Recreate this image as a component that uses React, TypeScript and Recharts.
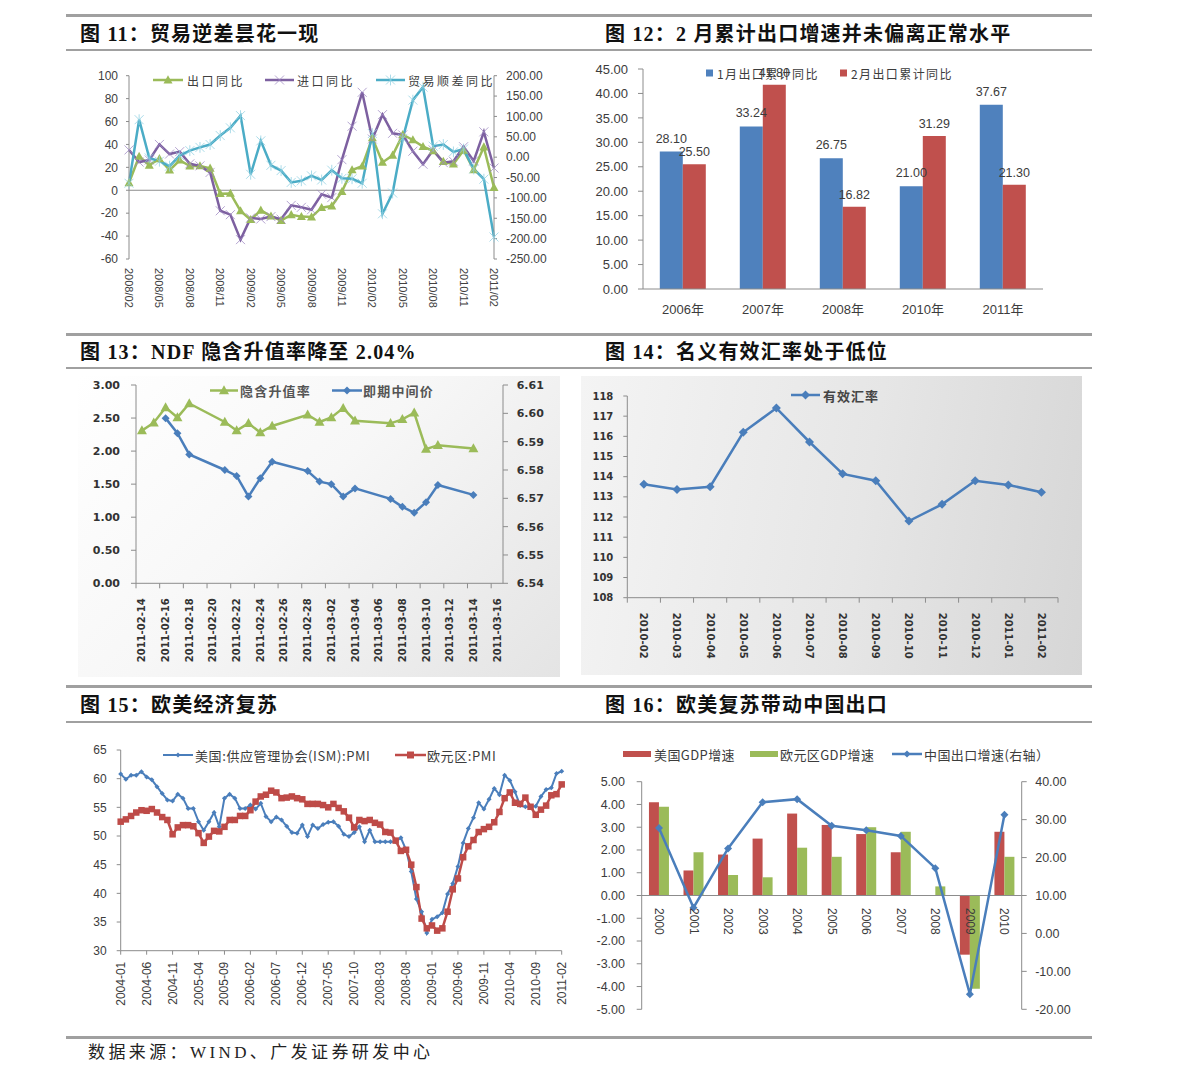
import React from "react";
import {
  ComposedChart,
  LineChart,
  BarChart,
  Line,
  Bar,
  XAxis,
  YAxis,
  ReferenceLine,
  ReferenceDot,
  LabelList,
} from "recharts";

const SANS = '"Liberation Sans", Arial, "Noto Sans CJK SC", sans-serif';
const CJK = '"Noto Sans CJK SC", "Liberation Sans", sans-serif';
const HEAVY = '"DejaVu Sans", "Noto Sans CJK SC", sans-serif';
const TITLE = '"Liberation Serif", "Noto Sans CJK SC", serif';
const AXIS = "#8c8c8c";
const INK = "#3c3c3c";

const BLUE = "#4a7ebb";
const BLUE_BAR = "#4f81bd";
const RED = "#c0504d";
const GREEN = "#9bbb59";
const PURPLE = "#7d60a0";
const CYAN = "#4bacc6";

// ================= Fig 11 =================
const f11Months = [
  "2008/02", "2008/03", "2008/04", "2008/05", "2008/06", "2008/07", "2008/08", "2008/09", "2008/10", "2008/11", "2008/12",
  "2009/01", "2009/02", "2009/03", "2009/04", "2009/05", "2009/06", "2009/07", "2009/08", "2009/09", "2009/10", "2009/11", "2009/12",
  "2010/01", "2010/02", "2010/03", "2010/04", "2010/05", "2010/06", "2010/07", "2010/08", "2010/09", "2010/10", "2010/11", "2010/12",
  "2011/01", "2011/02",
];
const f11Export = [
  6.5, 29.5, 21.8, 27.5, 17.6, 26.2, 21.1, 21.2, 19.2, -3.0, -2.8,
  -18.0, -25.7, -17.5, -22.6, -26.4, -21.4, -23.0, -23.4, -15.2, -13.8, -1.2, 17.7,
  21.0, 45.7, 24.3, 30.5, 48.5, 43.9, 38.1, 34.4, 25.1, 22.9, 34.9, 17.9,
  37.7, 2.4,
];
const f11Import = [
  35.2, 24.6, 26.4, 40.0, 31.6, 33.7, 23.1, 21.3, 15.6, -17.9, -21.3,
  -43.1, -24.1, -25.1, -23.0, -25.2, -13.2, -14.9, -17.0, -3.5, -6.4, 26.7, 55.9,
  85.5, 44.7, 66.0, 49.7, 48.3, 34.1, 22.7, 35.2, 24.1, 25.3, 38.0, 25.6,
  51.0, 19.4,
];
const f11Balance = [
  -64, 92, -2, -10, -22, 4, 16, 24, 31, 53, 72,
  102, -42, 40, -20, -33, -62, -58, -46, -56, -32, -52, -53,
  -64, 58, -139, -88, 46, 140, 172, 27, 31, 13, 20, -29,
  -54, -196,
];
const f11LeftTicks = [-60, -40, -20, 0, 20, 40, 60, 80, 100];
const f11RightTicks = [-250, -200, -150, -100, -50, 0, 50, 100, 150, 200];

// ================= Fig 12 =================
const f12Years = ["2006年", "2007年", "2008年", "2010年", "2011年"];
const f12Jan = [28.1, 33.24, 26.75, 21.0, 37.67];
const f12Feb = [25.5, 41.8, 16.82, 31.29, 21.3];
const f12Ticks = [0, 5, 10, 15, 20, 25, 30, 35, 40, 45];

// ================= Fig 13 =================
const f13Start = "2011-02-14";
const f13Dates = [
  "2011-02-14", "2011-02-15", "2011-02-16", "2011-02-17", "2011-02-18",
  "2011-02-21", "2011-02-22", "2011-02-23", "2011-02-24", "2011-02-25",
  "2011-02-28", "2011-03-01", "2011-03-02", "2011-03-03", "2011-03-04",
  "2011-03-07", "2011-03-08", "2011-03-09", "2011-03-10", "2011-03-11",
  "2011-03-14",
];
const f13Implied = [
  2.31, 2.43, 2.66, 2.51, 2.72,
  2.44, 2.31, 2.42, 2.28, 2.38,
  2.55, 2.44, 2.51, 2.65, 2.46,
  2.42, 2.48, 2.58, 2.03, 2.09,
  2.04,
];
const f13Spot = [
  null, null, 6.5983, 6.593, 6.5855,
  6.58, 6.5779, 6.5706, 6.5771, 6.5829,
  6.5796, 6.5759, 6.575, 6.5706, 6.5735,
  6.5698, 6.567, 6.5649, 6.5686, 6.5747,
  6.5712,
];
const f13TickLabels = [
  "2011-02-14", "2011-02-16", "2011-02-18", "2011-02-20", "2011-02-22", "2011-02-24",
  "2011-02-26", "2011-02-28", "2011-03-02", "2011-03-04", "2011-03-06", "2011-03-08",
  "2011-03-10", "2011-03-12", "2011-03-14", "2011-03-16",
];
const f13LeftTicks = [0, 0.5, 1, 1.5, 2, 2.5, 3];
const f13RightTicks = [6.54, 6.55, 6.56, 6.57, 6.58, 6.59, 6.6, 6.61];

// ================= Fig 14 =================
const f14Months = [
  "2010-02", "2010-03", "2010-04", "2010-05", "2010-06", "2010-07", "2010-08",
  "2010-09", "2010-10", "2010-11", "2010-12", "2011-01", "2011-02",
];
const f14Neer = [113.62, 113.37, 113.5, 116.2, 117.4, 115.72, 114.14, 113.8, 111.8, 112.63, 113.8, 113.59, 113.23];
const f14Ticks = [108, 109, 110, 111, 112, 113, 114, 115, 116, 117, 118];

// ================= Fig 15 =================
function monthSeq(y0: number, m0: number, n: number, sep: string) {
  const out: string[] = [];
  for (let k = 0; k < n; k++) {
    const t = y0 * 12 + (m0 - 1) + k;
    out.push(`${Math.floor(t / 12)}${sep}${String((t % 12) + 1).padStart(2, "0")}`);
  }
  return out;
}
const f15Months = monthSeq(2004, 1, 86, "-");
const f15US = [
  60.8, 59.9, 60.6, 60.6, 61.2, 60.3, 59.8, 58.6, 57.4, 56.3, 56.1, 57.3,
  56.6, 54.8, 54.8, 52.5, 51.0, 52.5, 54.1, 51.6, 56.6, 57.3, 56.6, 54.8,
  54.8, 55.4, 54.7, 55.7, 53.4, 52.5, 53.3, 52.8, 51.7, 50.6, 50.5, 51.9,
  49.9, 51.9, 51.3, 52.0, 52.4, 52.5, 51.7, 50.3, 49.9, 50.6, 51.6, 49.0,
  51.0, 49.0, 49.0, 49.0, 49.0, 49.0, 49.7, 47.6, 43.8, 39.0, 36.8, 33.1,
  35.5, 35.9, 36.6, 39.9, 41.7, 44.7, 48.8, 51.3, 53.2, 55.8, 54.7, 56.4,
  58.3, 57.2, 60.6, 59.7, 57.7, 55.3, 55.1, 55.1, 55.2, 56.9, 58.1, 58.4,
  60.9, 61.3,
];
const f15EU = [
  52.5, 52.9, 53.5, 54.1, 54.5, 54.4, 54.7, 54.1, 53.3, 52.8, 50.3, 51.5,
  51.9, 51.9, 51.7, 50.5, 48.8, 49.9, 50.9, 50.8, 51.6, 52.8, 52.8, 53.5,
  53.5, 54.5, 56.0, 56.9, 57.2, 57.9, 57.6, 56.6, 56.7, 56.9, 56.6, 56.4,
  55.6, 55.6, 55.6, 55.4, 55.0, 55.6, 54.9, 54.3, 53.2, 51.5, 52.8, 52.6,
  52.8, 52.3, 52.0, 50.7, 50.6, 49.2, 47.4, 47.6, 45.0, 41.1, 35.6, 33.9,
  34.4, 33.5, 33.9, 36.8, 40.7, 42.6, 46.3, 48.2, 49.3, 50.7, 51.2, 51.6,
  52.4, 54.2, 56.6, 57.6, 55.8, 55.6, 56.7, 55.1, 53.7, 54.6, 55.3, 57.1,
  57.3, 59.0,
];
const f15Ticks = [30, 35, 40, 45, 50, 55, 60, 65];

// ================= Fig 16 =================
const f16Years = ["2000", "2001", "2002", "2003", "2004", "2005", "2006", "2007", "2008", "2009", "2010"];
const f16US = [4.1, 1.1, 1.8, 2.5, 3.6, 3.1, 2.7, 1.9, 0.0, -2.6, 2.8];
const f16EU = [3.9, 1.9, 0.9, 0.8, 2.1, 1.7, 3.0, 2.8, 0.4, -4.1, 1.7];
const f16China = [27.8, 6.8, 22.4, 34.6, 35.4, 28.4, 27.2, 25.7, 17.2, -16.0, 31.3];
const f16LeftTicks = [-5, -4, -3, -2, -1, 0, 1, 2, 3, 4, 5];
const f16RightTicks = [-20, -10, 0, 10, 20, 30, 40];

// ================= built tables =================
const f11Data = f11Months.map((m, i) => ({ m, exp: f11Export[i], imp: f11Import[i], bal: f11Balance[i] }));
const f12Data = f12Years.map((year, i) => ({ year, jan: f12Jan[i], feb: f12Feb[i] }));
const dayIndex = (s: string) => Math.round((Date.parse(s) - Date.parse(f13Start)) / 86400000);
const f13Data = f13Dates.map((d, i) => ({ d: dayIndex(d), g: f13Implied[i], b: f13Spot[i] }));
const f13LabelMap: Record<number, string> = {};
f13TickLabels.forEach((l) => (f13LabelMap[dayIndex(l)] = l));
const f13AxisTicks = f13TickLabels.flatMap((l) => [dayIndex(l) - 0.5, dayIndex(l)]);
const f14Data = f14Months.map((m, i) => ({ i, v: f14Neer[i] }));
const f14AxisTicks = [-0.5, ...f14Months.flatMap((_, i) => [i, i + 0.5])];
const f15Data = f15Months.map((m, i) => ({ m, us: f15US[i], eu: f15EU[i] }));
const f16Data = f16Years.map((y, i) => ({ y, us: f16US[i], eu: f16EU[i], cn: f16China[i] }));

// ================= helpers =================
type MK = "tri" | "dia" | "sq" | "x" | "star";
function Marker({ cx, cy, kind, color, size }: { cx: number; cy: number; kind: MK; color: string; size: number }) {
  const s = size / 2;
  switch (kind) {
    case "tri":
      return <polygon points={`${cx},${cy - s * 1.05} ${cx + s},${cy + s * 0.75} ${cx - s},${cy + s * 0.75}`} fill={color} />;
    case "dia":
      return <polygon points={`${cx},${cy - s} ${cx + s},${cy} ${cx},${cy + s} ${cx - s},${cy}`} fill={color} />;
    case "sq":
      return <rect x={cx - s} y={cy - s} width={size} height={size} fill={color} />;
    case "x":
      return (
        <g stroke={color} strokeWidth={1} opacity={0.75}>
          <line x1={cx - s} y1={cy - s} x2={cx + s} y2={cy + s} />
          <line x1={cx - s} y1={cy + s} x2={cx + s} y2={cy - s} />
        </g>
      );
    case "star":
      return (
        <g stroke={color} strokeWidth={1} opacity={0.75}>
          <line x1={cx - s} y1={cy - s} x2={cx + s} y2={cy + s} />
          <line x1={cx - s} y1={cy + s} x2={cx + s} y2={cy - s} />
          <line x1={cx} y1={cy - s * 1.2} x2={cx} y2={cy + s * 1.2} />
        </g>
      );
  }
  return null;
}
const dotOf = (kind: MK, color: string, size: number) => (p: any) => {
  const key = `dot-${p.index}`;
  if (p.cx == null || p.cy == null || Number.isNaN(p.cy) || p.value == null) return <g key={key} />;
  return (
    <g key={key}>
      <Marker cx={p.cx} cy={p.cy} kind={kind} color={color} size={size} />
    </g>
  );
};

function rotTick(angle: number, dy: number, fontSize: number, fill: string, family = SANS, weight: number = 400) {
  return (p: any) => (
    <g transform={`translate(${p.x},${p.y + dy})`}>
      <text
        transform={`rotate(${angle})`}
        textAnchor={angle > 0 ? "start" : "end"}
        dominantBaseline="central"
        fontSize={fontSize}
        fill={fill}
        fontFamily={family}
        fontWeight={weight}
      >
        {p.payload.value}
      </text>
    </g>
  );
}

function splitTick(labelOf: (v: number) => string, angle: number, dy: number, fontSize: number, fill: string, family: string, weight: number) {
  return (p: any) => {
    const v = p.payload.value;
    if (!Number.isInteger(v)) {
      return <line x1={p.x} x2={p.x} y1={p.y} y2={p.y + 5} stroke={AXIS} />;
    }
    return (
      <g transform={`translate(${p.x},${p.y + dy})`}>
        <text
          transform={`rotate(${angle})`}
          textAnchor={angle > 0 ? "start" : "end"}
          dominantBaseline="central"
          fontSize={fontSize}
          fill={fill}
          fontFamily={family}
          fontWeight={weight}
        >
          {labelOf(v)}
        </text>
      </g>
    );
  };
}

const fix2 = (v: any) => Number(v).toFixed(2);
const axisStroke = { stroke: AXIS };

// ================= charts =================
function Fig11() {
  return (
    <div style={{ position: "absolute", left: 70, top: 60 }}>
      <LineChart width={490} height={262} data={f11Data} margin={{ top: 15.7, right: 0, bottom: 0, left: 0 }}>
        <XAxis
          dataKey="m"
          interval={2}
          height={63}
          tickSize={0}
          tickMargin={0}
          axisLine={false}
          tickLine={false}
          tick={rotTick(90, 9, 11, "#404040")}
        />
        <YAxis
          yAxisId="l"
          domain={[-60, 100]}
          ticks={f11LeftTicks}
          width={59}
          tickSize={3}
          tickMargin={8}
          axisLine={axisStroke}
          tickLine={axisStroke}
          tick={{ fontSize: 12, fill: "#404040" }}
        />
        <YAxis
          yAxisId="r"
          orientation="right"
          domain={[-250, 200]}
          ticks={f11RightTicks}
          width={66}
          tickSize={3}
          tickMargin={9}
          tickFormatter={fix2}
          axisLine={axisStroke}
          tickLine={axisStroke}
          tick={{ fontSize: 12, fill: "#404040" }}
        />
        <ReferenceLine yAxisId="l" y={0} stroke={AXIS} />
        <Line yAxisId="l" dataKey="exp" stroke={GREEN} strokeWidth={2.5} dot={dotOf("tri", GREEN, 9)} activeDot={false} isAnimationActive={false} />
        <Line yAxisId="l" dataKey="imp" stroke={PURPLE} strokeWidth={2.5} dot={dotOf("x", "#9d87c2", 9)} activeDot={false} isAnimationActive={false} />
        <Line yAxisId="r" dataKey="bal" stroke={CYAN} strokeWidth={2.5} dot={dotOf("star", "#8fd0e2", 9)} activeDot={false} isAnimationActive={false} />
      </LineChart>
    </div>
  );
}

function Fig12() {
  return (
    <div style={{ position: "absolute", left: 590, top: 55 }}>
      <BarChart
        width={500}
        height={265}
        data={f12Data}
        margin={{ top: 14, right: 47, bottom: 0, left: 0 }}
        barCategoryGap="21%"
        barGap={0}
      >
        <XAxis
          dataKey="year"
          height={31}
          tickSize={0}
          tickMargin={16}
          tickLine={false}
          axisLine={axisStroke}
          tick={{ fontSize: 13, fill: INK }}
        />
        <YAxis
          domain={[0, 45]}
          ticks={f12Ticks}
          tickFormatter={fix2}
          width={53}
          tickSize={5}
          tickMargin={10}
          axisLine={axisStroke}
          tickLine={axisStroke}
          tick={{ fontSize: 13, fill: INK }}
        />
        <Bar dataKey="jan" fill={BLUE_BAR} isAnimationActive={false}>
          <LabelList dataKey="jan" position="top" offset={9} formatter={fix2} fill={INK} fontSize={12.5} />
        </Bar>
        <Bar dataKey="feb" fill={RED} isAnimationActive={false}>
          <LabelList dataKey="feb" position="top" offset={8} formatter={fix2} fill={INK} fontSize={12.5} />
        </Bar>
      </BarChart>
    </div>
  );
}

function Fig13() {
  return (
    <div
      style={{
        position: "absolute",
        left: 78,
        top: 376,
        width: 482,
        height: 301,
        background: "linear-gradient(135deg, #ffffff 0%, #f7f7f7 45%, #e4e4e4 100%)",
      }}
    >
      <ComposedChart width={482} height={300} data={f13Data} margin={{ top: 9, right: 0, bottom: 0, left: 0 }}>
        <XAxis
          dataKey="d"
          type="number"
          domain={[-0.5, 30.5]}
          allowDataOverflow
          ticks={f13AxisTicks}
          interval={0}
          height={92.7}
          tickSize={0}
          tickMargin={0}
          tickLine={false}
          axisLine={axisStroke}
          tick={splitTick((v) => f13LabelMap[v] ?? "", -90, 15, 10, "#333", HEAVY, 700)}
        />
        <YAxis
          yAxisId="l"
          domain={[0, 3]}
          ticks={f13LeftTicks}
          tickFormatter={fix2}
          width={58}
          tickSize={5}
          tickMargin={11}
          axisLine={axisStroke}
          tickLine={axisStroke}
          tick={{ fontSize: 11, fill: "#333", fontFamily: HEAVY, fontWeight: 700 }}
        />
        <YAxis
          yAxisId="r"
          orientation="right"
          domain={[6.54, 6.61]}
          ticks={f13RightTicks}
          tickFormatter={fix2}
          width={57}
          tickSize={5}
          tickMargin={8.7}
          axisLine={axisStroke}
          tickLine={axisStroke}
          tick={{ fontSize: 11, fill: "#333", fontFamily: HEAVY, fontWeight: 700 }}
        />
        <Line yAxisId="l" dataKey="g" stroke={GREEN} strokeWidth={2.5} dot={dotOf("tri", GREEN, 10)} activeDot={false} isAnimationActive={false} />
        <Line yAxisId="r" dataKey="b" stroke={BLUE} strokeWidth={2.5} dot={dotOf("dia", BLUE, 8)} activeDot={false} isAnimationActive={false} />
      </ComposedChart>
    </div>
  );
}

function Fig14() {
  return (
    <div
      style={{
        position: "absolute",
        left: 581,
        top: 376,
        width: 501,
        height: 299,
        background: "linear-gradient(100deg, #f4f4f4 0%, #e6e6e6 55%, #d6d6d6 100%)",
      }}
    >
      <ComposedChart width={501} height={299} data={f14Data} margin={{ top: 20, right: 24, bottom: 0, left: 0 }}>
        <XAxis
          dataKey="i"
          type="number"
          domain={[-0.5, 12.5]}
          allowDataOverflow
          ticks={f14AxisTicks}
          interval={0}
          height={77.3}
          tickSize={0}
          tickMargin={0}
          tickLine={false}
          axisLine={axisStroke}
          tick={splitTick((v) => f14Months[v] ?? "", 90, 15, 10, "#333", HEAVY, 700)}
        />
        <YAxis
          domain={[108, 118]}
          ticks={f14Ticks}
          width={46.3}
          tickSize={4}
          tickMargin={10}
          axisLine={axisStroke}
          tickLine={axisStroke}
          tick={{ fontSize: 10, fill: "#333", fontFamily: HEAVY, fontWeight: 700 }}
        />
        <Line dataKey="v" stroke={BLUE} strokeWidth={2.5} dot={dotOf("dia", BLUE, 9)} activeDot={false} isAnimationActive={false} />
      </ComposedChart>
    </div>
  );
}

function Fig15() {
  return (
    <div style={{ position: "absolute", left: 75, top: 740 }}>
      <ComposedChart width={500} height={280} data={f15Data} margin={{ top: 10, right: 13.3, bottom: 0, left: 0 }}>
        <XAxis
          dataKey="m"
          interval={4}
          height={69.3}
          tickSize={4}
          tickMargin={7}
          tickLine={axisStroke}
          axisLine={axisStroke}
          tick={rotTick(-90, 0, 12, INK)}
        />
        <YAxis
          domain={[30, 65]}
          ticks={f15Ticks}
          width={45.7}
          tickSize={4}
          tickMargin={10}
          axisLine={axisStroke}
          tickLine={axisStroke}
          tick={{ fontSize: 12, fill: INK }}
        />
        <Line dataKey="us" stroke={BLUE} strokeWidth={2} dot={dotOf("dia", BLUE, 5)} activeDot={false} isAnimationActive={false} />
        <Line dataKey="eu" stroke="#be4b48" strokeWidth={2.5} dot={dotOf("sq", "#be4b48", 6.5)} activeDot={false} isAnimationActive={false} />
      </ComposedChart>
    </div>
  );
}

function yearLabel(p: any, text: string) {
  const vb = p.viewBox || {};
  const x = (vb.x ?? 0) + (vb.width ?? 0) / 2;
  const y = (vb.y ?? 0) + (vb.height ?? 0) / 2;
  return (
    <g transform={`translate(${x},${y + 12.5})`}>
      <text transform="rotate(90)" textAnchor="start" dominantBaseline="central" fontSize={12} fill={INK} fontFamily={SANS}>
        {text}
      </text>
    </g>
  );
}

function Fig16() {
  return (
    <div style={{ position: "absolute", left: 590, top: 740 }}>
      <ComposedChart
        width={500}
        height={280}
        data={f16Data}
        margin={{ top: 41.7, right: 0, bottom: 10.7, left: 0 }}
        barCategoryGap="21%"
        barGap={0}
      >
        <XAxis dataKey="y" hide />
        <YAxis
          yAxisId="l"
          domain={[-5, 5]}
          ticks={f16LeftTicks}
          tickFormatter={fix2}
          width={51.7}
          tickSize={5}
          tickMargin={11.7}
          axisLine={axisStroke}
          tickLine={axisStroke}
          tick={{ fontSize: 12.5, fill: INK }}
        />
        <YAxis
          yAxisId="r"
          orientation="right"
          domain={[-20, 40]}
          ticks={f16RightTicks}
          tickFormatter={fix2}
          width={68.3}
          tickSize={5}
          tickMargin={8.5}
          axisLine={axisStroke}
          tickLine={axisStroke}
          tick={{ fontSize: 12.5, fill: INK }}
        />
        <ReferenceLine yAxisId="l" y={0} stroke={AXIS} />
        <Bar yAxisId="l" dataKey="us" fill={RED} isAnimationActive={false} />
        <Bar yAxisId="l" dataKey="eu" fill={GREEN} isAnimationActive={false} />
        <Line yAxisId="r" dataKey="cn" stroke={BLUE} strokeWidth={2.5} dot={dotOf("dia", BLUE, 8)} activeDot={false} isAnimationActive={false} />
        {f16Years.map((yr) => (
          <ReferenceDot
            key={yr}
            yAxisId="l"
            x={yr}
            y={0}
            r={0}
            fill="none"
            stroke="none"
            label={(p: any) => yearLabel(p, yr)}
          />
        ))}
      </ComposedChart>
    </div>
  );
}

// ================= legends overlay (page coordinates) =================
function LegLine({ x1, x2, y, color, w, kind, size, mcolor }: { x1: number; x2: number; y: number; color: string; w: number; kind: MK; size: number; mcolor?: string }) {
  return (
    <g>
      <line x1={x1} x2={x2} y1={y} y2={y} stroke={color} strokeWidth={w} />
      <Marker cx={(x1 + x2) / 2} cy={y} kind={kind} color={mcolor ?? color} size={size} />
    </g>
  );
}
function LegText({ x, y, text, size, spacing = 0, weight = 400, fill = INK, family = CJK }: { x: number; y: number; text: string; size: number; spacing?: number; weight?: number; fill?: string; family?: string }) {
  return (
    <text x={x} y={y} dominantBaseline="central" fontSize={size} letterSpacing={spacing} fontWeight={weight} fill={fill} fontFamily={family}>
      {text}
    </text>
  );
}

function Legends() {
  return (
    <svg width={1191} height={1088} style={{ position: "absolute", left: 0, top: 0, pointerEvents: "none" }}>
      {/* Fig 11 */}
      <LegLine x1={153} x2={183} y={80} color={GREEN} w={2.5} kind="tri" size={9} />
      <LegText x={187} y={80} text="出口同比" size={12} spacing={2.5} fill="#404040" />
      <LegLine x1={265} x2={294} y={80} color={PURPLE} w={2.5} kind="x" size={9} mcolor="#9d87c2" />
      <LegText x={297} y={80} text="进口同比" size={12} spacing={2.5} fill="#404040" />
      <LegLine x1={376} x2={405} y={80} color={CYAN} w={2.5} kind="star" size={9} mcolor="#8fd0e2" />
      <LegText x={408} y={80} text="贸易顺差同比" size={12} spacing={2.5} fill="#404040" />

      {/* Fig 12 */}
      <rect x={706} y={69.5} width={7} height={7} fill={BLUE_BAR} />
      <LegText x={717} y={73.3} text="1月出口累计同比" size={12} spacing={1.4} />
      <rect x={840} y={69.5} width={7} height={7} fill={RED} />
      <LegText x={851} y={73.3} text="2月出口累计同比" size={12} spacing={1.4} />

      {/* Fig 13 */}
      <LegLine x1={210} x2={238} y={390.5} color={GREEN} w={2.5} kind="tri" size={10} />
      <LegText x={240} y={390.5} text="隐含升值率" size={13} spacing={1.2} weight={700} fill="#555" />
      <LegLine x1={332} x2={362} y={390.5} color={BLUE} w={2.5} kind="dia" size={8} />
      <LegText x={363} y={390.5} text="即期中间价" size={13} spacing={1.2} weight={700} fill="#555" />

      {/* Fig 14 */}
      <LegLine x1={791} x2={820} y={395} color={BLUE} w={2.5} kind="dia" size={9} />
      <LegText x={823} y={395} text="有效汇率" size={13} spacing={1} weight={700} fill="#444" />

      {/* Fig 15 */}
      <LegLine x1={163} x2={193} y={755} color={BLUE} w={2} kind="dia" size={5} />
      <LegText x={195} y={755} text="美国:供应管理协会(ISM):PMI" size={13} spacing={0.6} />
      <LegLine x1={395} x2={426} y={755} color="#be4b48" w={2.5} kind="sq" size={7} />
      <LegText x={427} y={755} text="欧元区:PMI" size={13} spacing={0.6} />

      {/* Fig 16 */}
      <rect x={623} y={751} width={28} height={6} fill={RED} />
      <LegText x={654} y={754} text="美国GDP增速" size={13} spacing={0.4} />
      <rect x={750} y={751} width={28} height={6} fill={GREEN} />
      <LegText x={780} y={754} text="欧元区GDP增速" size={13} spacing={0.4} />
      <LegLine x1={892} x2={922} y={754} color={BLUE} w={2.5} kind="dia" size={7} />
      <LegText x={924} y={754} text="中国出口增速(右轴）" size={13} spacing={0.4} />
    </svg>
  );
}

// ================= page frame =================
const rules = [
  { y: 14, h: 3 },
  { y: 49, h: 2 },
  { y: 333, h: 3 },
  { y: 367, h: 2 },
  { y: 685, h: 3 },
  { y: 721, h: 2 },
  { y: 1036, h: 3 },
];
const titles = [
  { x: 80, y: 34, text: "图 11：贸易逆差昙花一现" },
  { x: 605, y: 34, text: "图 12：2 月累计出口增速并未偏离正常水平" },
  { x: 80, y: 352, text: "图 13：NDF 隐含升值率降至 2.04%" },
  { x: 605, y: 352, text: "图 14：名义有效汇率处于低位" },
  { x: 80, y: 705, text: "图 15：欧美经济复苏" },
  { x: 605, y: 705, text: "图 16：欧美复苏带动中国出口" },
];

export default function App() {
  return (
    <div
      style={{
        position: "absolute",
        left: 0,
        top: 0,
        width: 1191,
        height: 1088,
        background: "#ffffff",
        fontFamily: SANS,
        overflow: "hidden",
      }}
    >
      {rules.map((r, i) => (
        <div key={i} style={{ position: "absolute", left: 66, top: r.y, width: 1026, height: r.h, background: "#a0a0a0" }} />
      ))}
      {titles.map((t, i) => (
        <div
          key={i}
          style={{
            position: "absolute",
            left: t.x,
            top: t.y - 12,
            height: 24,
            lineHeight: "24px",
            fontSize: 20,
            fontWeight: 700,
            letterSpacing: 1.2,
            fontFamily: TITLE,
            color: "#111",
            whiteSpace: "nowrap",
          }}
        >
          {t.text}
        </div>
      ))}
      <Fig11 />
      <Fig12 />
      <Fig13 />
      <Fig14 />
      <Fig15 />
      <Fig16 />
      <Legends />
      <div
        style={{
          position: "absolute",
          left: 88,
          top: 1041,
          height: 24,
          lineHeight: "24px",
          fontSize: 17,
          letterSpacing: 3.4,
          fontFamily: TITLE,
          color: "#222",
          whiteSpace: "nowrap",
        }}
      >
        数据来源：WIND、广发证券研发中心
      </div>
    </div>
  );
}
